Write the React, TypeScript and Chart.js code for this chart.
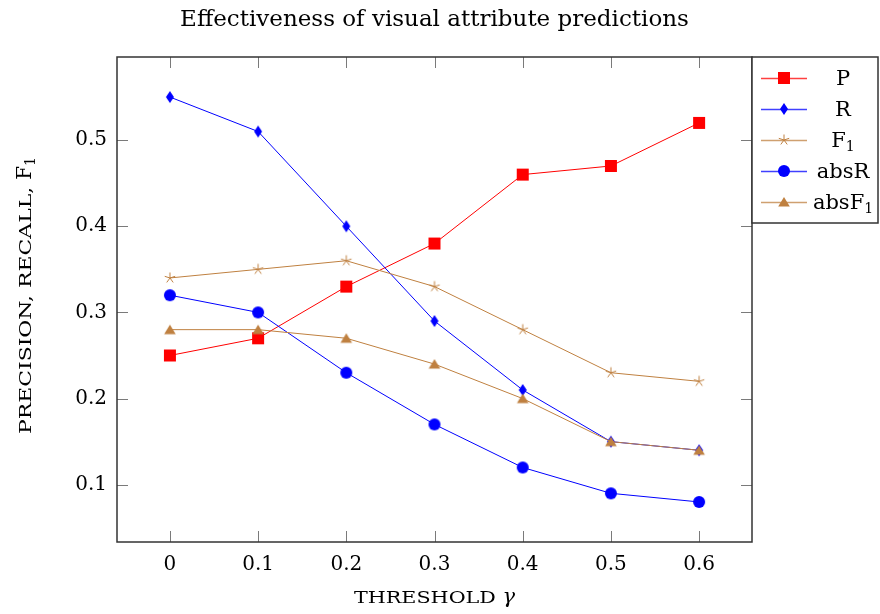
import React, { useEffect, useRef } from "react";
import { Chart, registerables } from "chart.js";

Chart.register(...registerables);

// ---- data ----
const thresholds = [0, 0.1, 0.2, 0.3, 0.4, 0.5, 0.6];
const precisionP = [0.25, 0.27, 0.33, 0.38, 0.46, 0.47, 0.52];
const recallR = [0.55, 0.51, 0.4, 0.29, 0.21, 0.15, 0.14];
const f1Score = [0.34, 0.35, 0.36, 0.33, 0.28, 0.23, 0.22];
const absRecall = [0.32, 0.3, 0.23, 0.17, 0.12, 0.09, 0.08];
const absF1 = [0.28, 0.28, 0.27, 0.24, 0.2, 0.15, 0.14];
const seriesNames = ["P", "R", "F", "absR", "absF"];
const seriesSubs = ["", "", "1", "", "1"];
const xTickValues = [0, 0.1, 0.2, 0.3, 0.4, 0.5, 0.6];
const yTickValues = [0.1, 0.2, 0.3, 0.4, 0.5];
const titleText = "Effectiveness of visual attribute predictions";
const xTitleCaps = "THRESHOLD ";
const xTitleSymbol = "γ";
const yTitleCaps = "PRECISION, RECALL, ";
const yTitleMain = "F";
const yTitleSub = "1";

const RED = "#ff0000";
const BLUE = "#0000ff";
const BROWN = "#bf8040";
const FONT = "'DejaVu Serif', serif";

function makeMarker(kind: string, color: string): HTMLCanvasElement {
  const c = document.createElement("canvas");
  c.width = 16;
  c.height = 16;
  const g = c.getContext("2d")!;
  g.fillStyle = color;
  g.strokeStyle = color;
  g.beginPath();
  if (kind === "square") {
    g.rect(2, 2, 12, 12);
    g.fill();
  } else if (kind === "diamond") {
    g.moveTo(8, 2);
    g.lineTo(12, 8);
    g.lineTo(8, 14);
    g.lineTo(4, 8);
    g.closePath();
    g.fill();
  } else if (kind === "circle") {
    g.arc(8, 8, 6, 0, Math.PI * 2);
    g.fill();
  } else if (kind === "triangle") {
    g.moveTo(8, 3);
    g.lineTo(13.8, 12.5);
    g.lineTo(2.2, 12.5);
    g.closePath();
    g.fill();
  } else if (kind === "star") {
    g.lineWidth = 1;
    for (let k = 0; k < 5; k++) {
      const a = -Math.PI / 2 + (k * 2 * Math.PI) / 5;
      g.moveTo(8, 8);
      g.lineTo(8 + 5.5 * Math.cos(a), 8 + 5.5 * Math.sin(a));
    }
    g.stroke();
  }
  return c;
}

type Seg = { text: string; font: string; dy: number; stretch?: boolean };

// draws text segments centred on cx; segments marked "stretch" are widened
// horizontally so that the whole run reaches targetWidth (small caps look)
function drawSegments(
  ctx: CanvasRenderingContext2D,
  segs: Seg[],
  cx: number,
  baseline: number,
  targetWidth?: number
) {
  const widths = segs.map((s) => {
    ctx.font = s.font;
    return ctx.measureText(s.text).width;
  });
  let fixed = 0;
  let stretchable = 0;
  segs.forEach((s, i) => {
    if (s.stretch) stretchable += widths[i];
    else fixed += widths[i];
  });
  let sx = 1;
  if (targetWidth && stretchable > 0) sx = (targetWidth - fixed) / stretchable;
  const total = fixed + stretchable * sx;
  let x = cx - total / 2;
  ctx.textAlign = "left";
  ctx.textBaseline = "alphabetic";
  segs.forEach((s, i) => {
    ctx.font = s.font;
    if (s.stretch) {
      ctx.save();
      ctx.translate(x, baseline + s.dy);
      ctx.scale(sx, 1);
      ctx.fillText(s.text, 0, 0);
      ctx.restore();
      x += widths[i] * sx;
    } else {
      ctx.fillText(s.text, x, baseline + s.dy);
      x += widths[i];
    }
  });
}

const framePlugin = {
  id: "frame",
  beforeDatasetsDraw(chart: any) {
    const { ctx, chartArea } = chart;
    const { left, right, top, bottom } = chartArea;
    const xs = chart.scales.x;
    const ys = chart.scales.y;
    ctx.save();
    ctx.strokeStyle = "#7a7a7a";
    ctx.lineWidth = 1;
    const tl = 11;
    xTickValues.forEach((v) => {
      const px = Math.round(xs.getPixelForValue(v)) + 0.5;
      ctx.beginPath();
      ctx.moveTo(px, bottom);
      ctx.lineTo(px, bottom - tl);
      ctx.moveTo(px, top);
      ctx.lineTo(px, top + tl);
      ctx.stroke();
    });
    yTickValues.forEach((v) => {
      const py = Math.round(ys.getPixelForValue(v)) + 0.5;
      ctx.beginPath();
      ctx.moveTo(left, py);
      ctx.lineTo(left + tl, py);
      ctx.moveTo(right, py);
      ctx.lineTo(right - tl, py);
      ctx.stroke();
    });
    ctx.restore();
  },
  afterDraw(chart: any) {
    const { ctx, chartArea } = chart;
    const { left, right, top, bottom } = chartArea;
    ctx.save();
    // axis frame
    ctx.strokeStyle = "#333";
    ctx.lineWidth = 1.5;
    ctx.strokeRect(left, top, right - left, bottom - top);

    ctx.fillStyle = "#000";
    // title
    ctx.font = `23px ${FONT}`;
    ctx.textAlign = "center";
    ctx.textBaseline = "alphabetic";
    ctx.fillText(titleText, (left + right) / 2, 26);

    // x axis title
    drawSegments(
      ctx,
      [
        { text: xTitleCaps, font: `16px ${FONT}`, dy: 0, stretch: true },
        { text: xTitleSymbol, font: `italic 21px ${FONT}`, dy: 0 },
      ],
      (left + right) / 2,
      603,
      161
    );

    // y axis title
    ctx.save();
    ctx.translate(31, (top + bottom) / 2 - 4);
    ctx.rotate(-Math.PI / 2);
    drawSegments(
      ctx,
      [
        { text: yTitleCaps, font: `16px ${FONT}`, dy: 0, stretch: true },
        { text: yTitleMain, font: `20px ${FONT}`, dy: 0 },
        { text: yTitleSub, font: `14px ${FONT}`, dy: 4 },
      ],
      0,
      0,
      277
    );
    ctx.restore();

    // legend
    const bx = right;
    const by = top;
    const bw = 126;
    const bh = 166;
    ctx.fillStyle = "#fff";
    ctx.fillRect(bx, by, bw, bh);
    ctx.strokeStyle = "#333";
    ctx.lineWidth = 1.5;
    ctx.strokeRect(bx, by, bw, bh);
    chart.data.datasets.forEach((ds: any, i: number) => {
      const ry = by + 21 + i * 31;
      ctx.strokeStyle = ds.borderColor;
      ctx.globalAlpha = 0.75;
      ctx.lineWidth = 1.5;
      ctx.beginPath();
      ctx.moveTo(bx + 9, ry + 0.5);
      ctx.lineTo(bx + 55, ry + 0.5);
      ctx.stroke();
      ctx.globalAlpha = 1;
      const img = ds.pointStyle as HTMLCanvasElement;
      ctx.drawImage(img, bx + 32 - img.width / 2, ry - img.height / 2);
      ctx.fillStyle = "#000";
      const segs: Seg[] = [{ text: seriesNames[i], font: `21px ${FONT}`, dy: 0 }];
      if (seriesSubs[i]) segs.push({ text: seriesSubs[i], font: `14px ${FONT}`, dy: 4 });
      drawSegments(ctx, segs, bx + 91, ry + 7);
    });
    ctx.restore();
  },
};

function fmt(v: number): string {
  return String(Number(v.toFixed(1)));
}

export default function App() {
  const ref = useRef<HTMLCanvasElement | null>(null);
  useEffect(() => {
    document.body.style.margin = "0";
    const canvas = ref.current!;
    const series = [
      { data: precisionP, color: RED, marker: "square" },
      { data: recallR, color: BLUE, marker: "diamond" },
      { data: f1Score, color: BROWN, marker: "star" },
      { data: absRecall, color: BLUE, marker: "circle" },
      { data: absF1, color: BROWN, marker: "triangle" },
    ];
    const chart = new Chart(canvas, {
      type: "line",
      data: {
        datasets: series.map((s, i) => ({
          label: seriesNames[i] + seriesSubs[i],
          data: thresholds.map((x, j) => ({ x, y: s.data[j] })),
          borderColor: s.color,
          backgroundColor: s.color,
          borderWidth: 1,
          pointStyle: makeMarker(s.marker, s.color) as any,
          pointRadius: 6,
          order: series.length - i,
          tension: 0,
        })),
      },
      options: {
        responsive: false,
        animation: false,
        events: [],
        layout: { padding: { top: 57, right: 128, left: 0, bottom: 0 } },
        plugins: {
          legend: { display: false },
          title: { display: false },
          tooltip: { enabled: false },
        },
        scales: {
          x: {
            type: "linear",
            min: -0.06,
            max: 0.66,
            afterBuildTicks: (s: any) => {
              s.ticks = xTickValues.map((v) => ({ value: v }));
            },
            afterFit: (s: any) => {
              s.height = 72;
            },
            grid: { display: false, drawTicks: false },
            border: { display: false },
            ticks: {
              color: "#000",
              font: { family: FONT, size: 20 },
              padding: 11,
              maxRotation: 0,
              callback: (v: any) => fmt(Number(v)),
            },
          },
          y: {
            type: "linear",
            min: 0.0335,
            max: 0.5965,
            afterBuildTicks: (s: any) => {
              s.ticks = yTickValues.map((v) => ({ value: v }));
            },
            afterFit: (s: any) => {
              s.width = 117;
            },
            grid: { display: false, drawTicks: false },
            border: { display: false },
            ticks: {
              color: "#000",
              font: { family: FONT, size: 20 },
              padding: 10,
              callback: (v: any) => fmt(Number(v)),
            },
          },
        },
      },
      plugins: [framePlugin],
    });
    return () => chart.destroy();
  }, []);
  return <canvas ref={ref} width={880} height={614} style={{ display: "block" }} />;
}
